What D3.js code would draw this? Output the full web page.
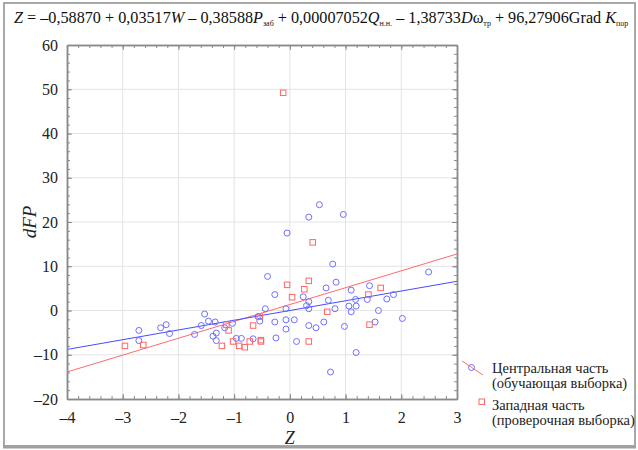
<!DOCTYPE html>
<html>
<head>
<meta charset="utf-8">
<script src="https://cdn.jsdelivr.net/npm/d3@7"></script>
<style>
  body { margin: 0; background: white; }
</style>
</head>
<body>
<div id="container"></div>
<script>
let w = 638;
let h = 450;
let serif = "Liberation Serif";

// DATA
let centralX = [-2.71, -2.71, -2.32, -2.22, -2.16, -1.71, -1.59, -1.53, -1.46, -1.34, -1.38, -1.32, -1.32, -1.17, -1.03,
  -0.96, -0.87, -0.66, -0.54, -0.57, -0.44, -0.40, -0.27, -0.27, -0.25, -0.07, -0.07, -0.07, -0.05, 0.08,
  0.12, 0.24, 0.30, 0.34, 0.34, 0.34, 0.34, 0.47, 0.53, 0.61, 0.65, 0.69, 0.73, 0.77, 0.81,
  0.83, 0.96, 0.98, 1.06, 1.10, 1.10, 1.18, 1.19, 1.19, 1.39, 1.43, 1.53, 1.59, 1.74, 1.86, 2.02, 2.49];
let centralY = [-4.5, -6.8, -3.9, -3.2, -5.2, -5.4, -3.4, -0.8, -2.4, -2.6, -5.8, -5.1, -6.8, -3.9, -2.9,
  -6.3, -6.3, -6.4, -2.4, -1.4, 0.4, 7.7, 3.6, -2.6, -6.2, 0.4, -2.1, -4.2, 17.5, -2.1,
  -7.0, 3.1, 1.1, 2.0, 0.4, -3.4, 21.1, -3.9, 23.9, -2.6, 5.1, 2.3, -13.9, 10.5, 0.4,
  6.4, 21.7, -3.6, 1.0, 4.6, -0.3, 2.5, 1.0, -9.5, 2.5, 5.6, -2.6, 0.0, 2.6, 3.6, -1.8, 8.7];
let westX = [-2.96, -2.63, -1.22, -1.14, -1.10, -1.02, -0.91, -0.81, -0.72, -0.66, -0.54, -0.52, -0.52,
  -0.12, -0.05, 0.04, 0.26, 0.34, 0.34, 0.41, 0.67, 1.41, 1.43, 1.63];
let westY = [-8.0, -7.8, -8.0, -3.2, -4.5, -7.0, -8.0, -8.3, -7.0, -3.4, -1.4, -6.7, -7.0,
  49.2, 5.8, 3.0, 4.8, 6.7, -7.0, 15.4, -0.3, 3.6, -3.2, 5.1];
// fitted lines: [intercept, slope]
let centralFit = [0.0, 2.2];
let westFit = [1.35, 3.81];

let xTicks = [-4, -3, -2, -1, 0, 1, 2, 3];
let yTicks = [-20, -10, 0, 10, 20, 30, 40, 50, 60];
let legendCentral = ["Центральная часть", "(обучающая выборка)"];
let legendWest = ["Западная часть", "(проверочная выборка)"];

let margin = {left: 67, right: 181, top: 45, bottom: 51};
let x = d3.scaleLinear().domain([-4, 3]).range([margin.left, w - margin.right]);
let y = d3.scaleLinear().domain([-20, 60]).range([h - margin.bottom, margin.top]);

let fmt = d => String(d).replace("-", "–");

let viz = d3.select("#container").append("svg")
    .attr("width", w)
    .attr("height", h)
    .style("background-color", "white");

// outer frame
viz.append("rect")
    .attr("x", 4).attr("y", 3).attr("width", 631).attr("height", 443)
    .attr("fill", "none").attr("stroke", "#a8a8a8").attr("stroke-width", 2);
viz.append("line")
    .attr("x1", 3).attr("x2", 636).attr("y1", 447).attr("y2", 447)
    .attr("stroke", "#a0a0a0").attr("stroke-width", 3);

// title
let title = viz.append("text").attr("x", 14).attr("y", 23)
    .attr("font-family", serif).attr("font-size", 16.2).attr("fill", "#111");
let parts = [
  ["Z", "i"], [" = –0,58870 + 0,03517", ""], ["W", "i"], [" – 0,38588", ""], ["P", "i"], ["заб", "s"],
  [" + 0,00007052", ""], ["Q", "i"], ["н.н.", "s"], [" – 1,38733", ""], ["D", "i"], ["ω", ""], ["тр", "s"],
  [" + 96,27906Grad ", ""], ["K", "i"], ["пор", "s"]
];
let lastSub = false;
parts.forEach(p => {
  let t = title.append("tspan").text(p[0]);
  if (p[1] == "i") t.attr("font-style", "italic");
  if (p[1] == "s") {
    t.attr("font-size", 8).attr("dy", 3);
    lastSub = true;
  } else if (lastSub) {
    t.attr("dy", -3);
    lastSub = false;
  }
});

let plot = viz.append("g");

// grid
plot.selectAll(".gx").data(xTicks.slice(1, -1)).enter()
  .append("line")
    .attr("x1", d => x(d)).attr("x2", d => x(d))
    .attr("y1", y(-20)).attr("y2", y(60))
    .attr("stroke", "#e4e4e4");
plot.selectAll(".gy").data(yTicks.slice(1, -1)).enter()
  .append("line")
    .attr("y1", d => y(d)).attr("y2", d => y(d))
    .attr("x1", x(-4)).attr("x2", x(3))
    .attr("stroke", "#e4e4e4");

// clip for fit lines
viz.append("clipPath").attr("id", "clip")
  .append("rect").attr("x", x(-4)).attr("y", y(60))
  .attr("width", x(3) - x(-4)).attr("height", y(-20) - y(60));

let fitLine = (fit, color) => {
  plot.append("line")
    .attr("clip-path", "url(#clip)")
    .attr("x1", x(-4)).attr("y1", y(fit[0] + fit[1] * -4))
    .attr("x2", x(3)).attr("y2", y(fit[0] + fit[1] * 3))
    .attr("stroke", color).attr("stroke-width", 1);
};
fitLine(westFit, "#ff6b6b");
fitLine(centralFit, "#4a4aff");

// points
let central = centralX.map((v, k) => [v, centralY[k]]);
let west = westX.map((v, k) => [v, westY[k]]);
plot.selectAll(".c").data(central).enter()
  .append("circle")
    .attr("cx", d => x(d[0])).attr("cy", d => y(d[1])).attr("r", 3)
    .attr("fill", "none").attr("stroke", "#6f6fff").attr("stroke-width", 1);
let s = 5.5;
plot.selectAll(".s").data(west).enter()
  .append("rect")
    .attr("x", d => x(d[0]) - s / 2).attr("y", d => y(d[1]) - s / 2)
    .attr("width", s).attr("height", s)
    .attr("fill", "none").attr("stroke", "#ff6666").attr("stroke-width", 1);

// axes with inward ticks on all four sides
let axisColor = "#8a8a8a";
let xMinor = d3.range(-4, 3.001, 0.2);
let yMinor = d3.range(-20, 60.001, 2);
let drawAxis = (axis, pos) => {
  let g = viz.append("g").attr("transform", pos);
  g.call(axis);
  g.attr("font-family", serif).attr("font-size", 16);
  g.select(".domain").attr("stroke", axisColor).attr("stroke-width", 1.5);
  g.selectAll(".tick line").attr("stroke", axisColor);
  g.selectAll("text").attr("fill", "#222");
  return g;
};
// minor
drawAxis(d3.axisBottom(x).tickValues(xMinor).tickSizeInner(-3).tickSizeOuter(0).tickFormat(""), `translate(0,${y(-20)})`);
drawAxis(d3.axisTop(x).tickValues(xMinor).tickSizeInner(-3).tickSizeOuter(0).tickFormat(""), `translate(0,${y(60)})`);
drawAxis(d3.axisLeft(y).tickValues(yMinor).tickSizeInner(-3).tickSizeOuter(0).tickFormat(""), `translate(${x(-4)},0)`);
drawAxis(d3.axisRight(y).tickValues(yMinor).tickSizeInner(-3).tickSizeOuter(0).tickFormat(""), `translate(${x(3)},0)`);
// major
drawAxis(d3.axisBottom(x).tickValues(xTicks).tickSizeInner(-5).tickSizeOuter(0).tickPadding(13).tickFormat(fmt), `translate(0,${y(-20)})`);
drawAxis(d3.axisLeft(y).tickValues(yTicks).tickSizeInner(-5).tickSizeOuter(0).tickPadding(9).tickFormat(fmt), `translate(${x(-4)},0)`);
drawAxis(d3.axisTop(x).tickValues(xTicks).tickSizeInner(-5).tickSizeOuter(0).tickFormat(""), `translate(0,${y(60)})`);
drawAxis(d3.axisRight(y).tickValues(yTicks).tickSizeInner(-5).tickSizeOuter(0).tickFormat(""), `translate(${x(3)},0)`);

// axis titles
viz.append("text")
    .attr("x", x(0)).attr("y", 444)
    .attr("font-family", serif)
    .attr("text-anchor", "middle").attr("font-size", 18).attr("font-style", "italic")
    .attr("fill", "#222").text("Z");
viz.append("text")
    .attr("transform", `translate(36,${y(20)}) rotate(-90)`)
    .attr("font-family", serif)
    .attr("text-anchor", "middle").attr("font-size", 19).attr("font-style", "italic")
    .attr("fill", "#222").text("dFP");

// legend
let lg = viz.append("g").attr("font-family", serif);
lg.append("line").attr("x1", 462).attr("y1", 361).attr("x2", 483).attr("y2", 375)
    .attr("stroke", "#ff6b6b");
lg.append("circle").attr("cx", 471.5).attr("cy", 367.5).attr("r", 3)
    .attr("fill", "none").attr("stroke", "#6f6fff");
lg.append("rect").attr("x", 479).attr("y", 399).attr("width", s).attr("height", s)
    .attr("fill", "none").attr("stroke", "#ff6666");
legendCentral.forEach((t, k) => {
  lg.append("text").attr("x", 492).attr("y", 373 + k * 14.5).attr("font-size", 14.5).attr("fill", "#222").text(t);
});
legendWest.forEach((t, k) => {
  lg.append("text").attr("x", 492).attr("y", 410 + k * 14.5).attr("font-size", 14.5).attr("fill", "#222").text(t);
});
</script>
</body>
</html>
